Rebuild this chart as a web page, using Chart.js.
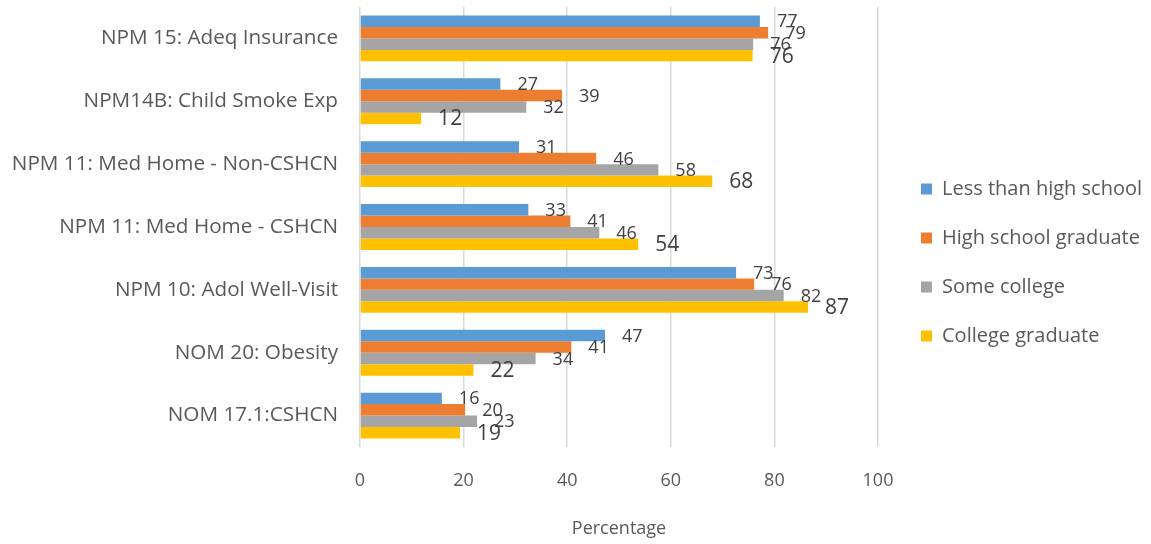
<!DOCTYPE html>
<html>
<head>
<meta charset="utf-8">
<script src="https://cdn.jsdelivr.net/npm/chart.js@4"></script>
<style>
  body { margin: 0; background: #fff; }
  #wrap { width: 1151px; height: 544px; position: relative; }
</style>
</head>
<body>
<div id="wrap"><canvas id="chart"></canvas></div>
<script>
const categories = [
  'NPM 15: Adeq Insurance',
  'NPM14B: Child Smoke Exp',
  'NPM 11: Med Home - Non-CSHCN',
  'NPM 11: Med Home - CSHCN',
  'NPM 10: Adol Well-Visit',
  'NOM 20: Obesity',
  'NOM 17.1:CSHCN'
];
const seriesNames = ['Less than high school', 'High school graduate', 'Some college', 'College graduate'];
const lessThanHS = [77.2, 27.1, 30.7, 32.5, 72.6, 47.3, 15.8];
const hsGraduate = [78.8, 39.0, 45.6, 40.6, 76.1, 40.8, 20.3];
const someCollege = [75.9, 32.1, 57.6, 46.2, 81.8, 33.9, 22.6];
const collegeGrad = [75.8, 11.8, 68.0, 53.7, 86.5, 21.9, 19.3];
const xTicks = [0, 20, 40, 60, 80, 100];

const colors = ['#5B9BD5', '#ED7D31', '#A5A5A5', '#FFC000'];
const labelSizes = [18, 18, 18, 21];
const FONT = '"Open Sans", sans-serif';

// value labels just past the end of each bar
const barLabels = {
  id: 'barLabels',
  afterDatasetsDraw(chart) {
    const ctx = chart.ctx;
    chart.data.datasets.forEach((ds, i) => {
      const meta = chart.getDatasetMeta(i);
      if (meta.hidden) return;
      meta.data.forEach((bar, j) => {
        ctx.save();
        ctx.font = labelSizes[i] + 'px ' + FONT;
        ctx.fillStyle = '#404040';
        ctx.textBaseline = 'middle';
        ctx.textAlign = 'left';
        ctx.fillText(String(Math.round(ds.data[j])), bar.x + 17, bar.y + 1);
        ctx.restore();
      });
    });
  }
};

const seriesData = [lessThanHS, hsGraduate, someCollege, collegeGrad];

new Chart(document.getElementById('chart').getContext('2d'), {
  type: 'bar',
  data: {
    labels: categories,
    datasets: seriesData.map((d, i) => ({
      label: seriesNames[i],
      data: d,
      backgroundColor: colors[i],
      borderWidth: 0,
      categoryPercentage: 0.73,
      barPercentage: 1.0,
      yAxisID: 'y'
    }))
  },
  options: {
    indexAxis: 'y',
    responsive: true,
    maintainAspectRatio: false,
    animation: false,
    layout: {
      padding: { top: 7, left: 0, right: 0, bottom: 0 }
    },
    scales: {
      x: {
        min: 0,
        max: 100,
        afterBuildTicks(scale) {
          scale.ticks = xTicks.map(v => ({ value: v }));
        },
        afterFit(scale) {
          scale.height = 97;
          scale.paddingLeft = 0;
          scale.paddingRight = 0;
        },
        grid: { color: '#d9d9d9', lineWidth: 1.5, drawTicks: false },
        border: { display: false },
        ticks: { color: '#595959', font: { family: FONT, size: 18 }, padding: 23, maxRotation: 0 },
        title: {
          display: true,
          text: 'Percentage',
          color: '#595959',
          font: { family: FONT, size: 18 },
          padding: { top: 26.6, bottom: 4.5 }
        }
      },
      y: {
        afterFit(scale) {
          scale.width = 360;
          scale.paddingTop = 0;
          scale.paddingBottom = 0;
        },
        grid: { display: false, drawTicks: false },
        border: { display: false },
        ticks: { color: '#595959', font: { family: FONT, size: 20.7 }, padding: 22 }
      },
      y2: {
        type: 'linear',
        position: 'right',
        display: true,
        grid: { display: false, drawTicks: false },
        border: { display: false },
        ticks: { display: false },
        afterFit(scale) { scale.width = 14; }
      }
    },
    plugins: {
      legend: {
        position: 'right',
        align: 'start',
        maxWidth: 259,
        title: { display: true, text: ' ', font: { size: 12 }, padding: { top: 128.6, bottom: 0 } },
        labels: {
          boxWidth: 11,
          boxHeight: 11,
          padding: 29,
          color: '#595959',
          font: { family: FONT, size: 20 }
        }
      },
      tooltip: { enabled: false }
    }
  },
  plugins: [barLabels]
});
</script>
</body>
</html>
